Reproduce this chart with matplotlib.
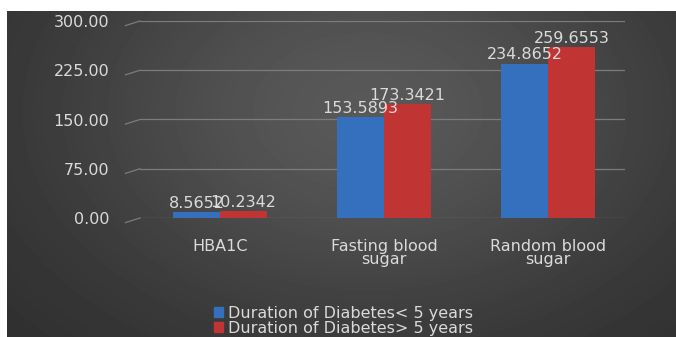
import numpy as np
import matplotlib.pyplot as plt
from matplotlib.patches import Patch

# Valeurs moyennes par groupe
categories = ["HBA1C", "Fasting blood\nsugar", "Random blood\nsugar"]
moins_5_ans = [8.5652, 153.5893, 234.8652]
plus_5_ans = [10.2342, 173.3421, 259.6553]
series_labels = ["Duration of Diabetes< 5 years", "Duration of Diabetes> 5 years"]
yticks = [0, 75, 150, 225, 300]

plt.rcParams['font.family'] = ['DejaVu Sans']
txt_color = '#dadada'
colors = ['#3570bf', '#c03434']
fs = 11.5

fig = plt.figure(figsize=(6.76, 3.37), dpi=100, facecolor='white')

# fond sombre en dégradé
bg = fig.add_axes([7 / 676, 0, 669 / 676, 326 / 337], zorder=0)
yy, xx = np.mgrid[0:326, 0:669]
lum = 44 + 44 * np.exp(-(((xx - 360) / 320) ** 2 + ((yy - 100) / 220) ** 2))
bg.imshow(lum, cmap='gray', vmin=0, vmax=255, aspect='auto', interpolation='bilinear')
bg.axis('off')

ax = fig.add_axes([140 / 676, (337 - 218) / 337, 485 / 676, 197 / 337], zorder=1)
ax.set_facecolor('none')

x = np.arange(len(categories))
w = 0.287
b1 = ax.bar(x - w / 2, moins_5_ans, w, color=colors[0], zorder=2)
b2 = ax.bar(x + w / 2, plus_5_ans, w, color=colors[1], zorder=2)
ax.bar_label(b1, fmt='%.4f', padding=1, color=txt_color, fontsize=fs, zorder=4)
ax.bar_label(b2, fmt='%.4f', padding=1, color=txt_color, fontsize=fs, zorder=4)

ax.set_xlim(-0.488, 2.47)
ax.set_ylim(0, 300)
ax.set_yticks(yticks)
ax.set_yticklabels([f"{v:.2f}" for v in yticks], color=txt_color, fontsize=fs)
ax.set_xticks(x)
ax.set_xticklabels(categories, color=txt_color, fontsize=fs)
for lab in ax.get_xticklabels():
    lab.set_linespacing(0.85)
ax.tick_params(axis='y', length=0, pad=22)
ax.tick_params(axis='x', length=0, pad=15)
ax.grid(axis='y', color='#7c7c7c', linewidth=0.9, zorder=1)
ax.set_axisbelow(True)
for s in ax.spines.values():
    s.set_visible(False)

# petits traits obliques au début des lignes de grille
tr = ax.get_yaxis_transform()
for v in yticks:
    ax.plot([-0.03, 0], [v - 7, v], color='#7c7c7c', lw=0.9, transform=tr, clip_on=False)

handles = [Patch(color=c) for c in colors]
fig.legend(handles, series_labels, loc='lower left', bbox_to_anchor=(0.304, -0.022),
           frameon=False, fontsize=fs, labelcolor=txt_color, handlelength=0.55,
           handleheight=0.55, handletextpad=0.3, labelspacing=0.0, borderpad=0.05)

plt.savefig("out.png", dpi=100, facecolor=fig.get_facecolor())
